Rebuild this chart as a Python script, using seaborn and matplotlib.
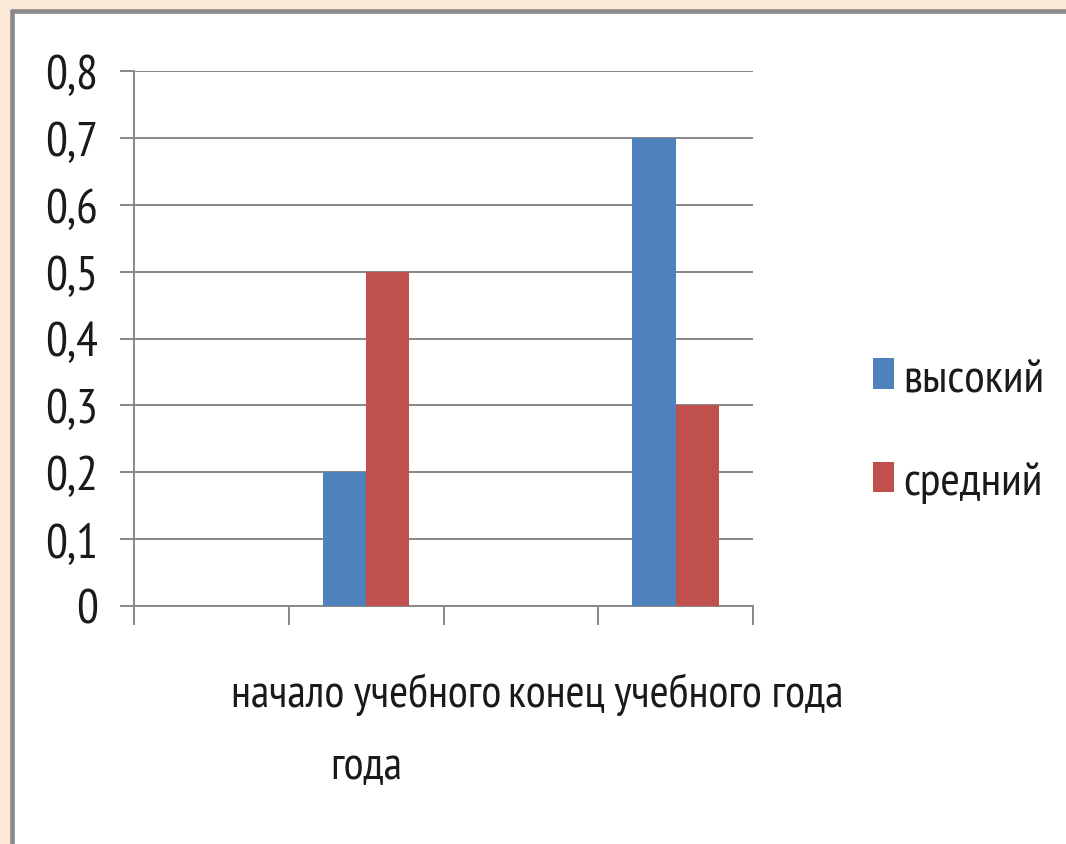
import matplotlib
matplotlib.use("Agg")
import matplotlib.pyplot as plt
from matplotlib.lines import Line2D
from matplotlib.patches import Rectangle
import seaborn as sns
import pandas as pd

# ---- data ----
category_index = [0, 1, 2, 3]
category_labels = ["", "начало учебного\nгода", "", "конец учебного года"]
series_names = ["высокий", "средний"]
vysokiy = [0, 0.2, 0, 0.7]
sredniy = [0, 0.5, 0, 0.3]
y_ticks = [0, 0.1, 0.2, 0.3, 0.4, 0.5, 0.6, 0.7, 0.8]
y_tick_labels = ["0", "0,1", "0,2", "0,3", "0,4", "0,5", "0,6", "0,7", "0,8"]
colors = ["#4F81BD", "#C0504D"]

df = pd.DataFrame({
    "cat": category_index * 2,
    "value": vysokiy + sredniy,
    "series": [series_names[0]] * 4 + [series_names[1]] * 4,
})

sns.set_theme(style="white")
plt.rcParams["font.family"] = ["PT Sans Narrow", "DejaVu Sans"]

W, H = 1066, 845
fig = plt.figure(figsize=(W / 100, H / 100), dpi=100)
fig.patch.set_facecolor("#FDE9D8")

# white panel with grey border on left/top
px = 11.5
fig.add_artist(Rectangle((px / W, 0), 1 - px / W, 1 - px / H, transform=fig.transFigure,
                         facecolor="white", edgecolor="none", zorder=0))
fig.add_artist(Line2D([px / W, px / W], [0, 1 - px / H], transform=fig.transFigure,
                      color="#8A8A8A", lw=3.3, zorder=1))
fig.add_artist(Line2D([px / W, 1], [1 - px / H, 1 - px / H], transform=fig.transFigure,
                      color="#8A8A8A", lw=3.3, zorder=1))

left, right, bottom, top = 134, 753, 607, 72
ax = fig.add_axes([left / W, (H - bottom) / H, (right - left) / W, (bottom - top) / H])
ax.set_facecolor("none")

sns.barplot(data=df, x="cat", y="value", hue="series", hue_order=series_names,
            order=category_index, palette=colors, width=0.56, saturation=1,
            linewidth=0, ax=ax, zorder=3)

ax.set_ylim(0, 0.8)
ax.set_xlim(-0.5, 3.5)
ax.set_yticks(y_ticks, y_tick_labels)
ax.set_xticks(category_index, category_labels)
ax.set_xticks([-0.5, 0.5, 1.5, 2.5, 3.5], minor=True)
ax.set_xlabel("")
ax.set_ylabel("")

grid_c = "#888888"
ax.yaxis.grid(True, color=grid_c, lw=1.4, zorder=1)
ax.xaxis.grid(False)
for s in ["top", "right"]:
    ax.spines[s].set_visible(False)
for s in ["left", "bottom"]:
    ax.spines[s].set_color(grid_c)
    ax.spines[s].set_linewidth(1.4)

text_c = "#1A1A1A"
ax.tick_params(axis="y", which="major", left=True, length=10, width=1.4, color=grid_c,
               direction="out", pad=16, labelsize=35, labelcolor=text_c)
ax.tick_params(axis="x", which="major", bottom=False, length=0, pad=48,
               labelsize=33, labelcolor=text_c)
ax.tick_params(axis="x", which="minor", bottom=True, length=14, width=1.4, color=grid_c,
               direction="out")
for t in ax.get_xticklabels():
    t.set_linespacing(1.9)
    t.set_ha("center")

sns.move_legend(ax, loc="center left", bbox_to_anchor=(873 / W, (H - 431) / H),
                bbox_transform=fig.transFigure, frameon=False, title=None,
                fontsize=34, borderpad=0, borderaxespad=0, handlelength=0.45,
                handleheight=0.62, handletextpad=0.2, labelspacing=1.3)
for t in ax.get_legend().get_texts():
    t.set_color(text_c)

fig.savefig("out.png", dpi=100, facecolor=fig.get_facecolor())
